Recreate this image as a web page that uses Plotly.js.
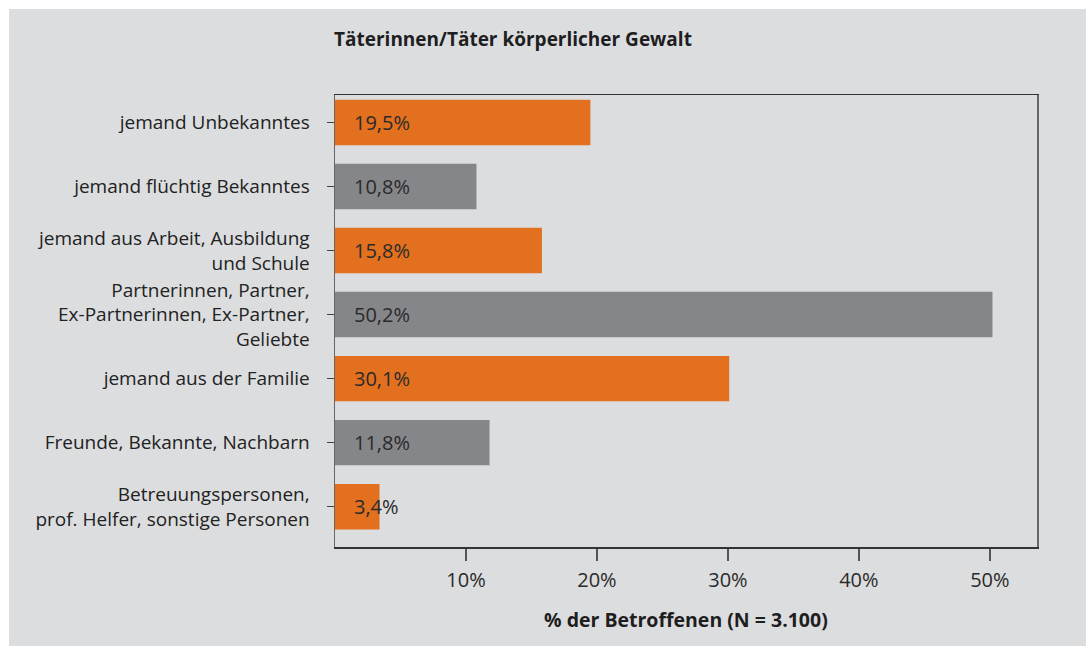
<!DOCTYPE html>
<html>
<head>
<meta charset="utf-8">
<script src="https://cdn.plot.ly/plotly-3.0.1.min.js"></script>
<style>
html,body{margin:0;padding:0;background:#ffffff;width:1086px;height:646px;overflow:hidden;}
#chart{position:absolute;left:9px;top:9px;width:1077px;height:637px;}
</style>
</head>
<body>
<div id="chart"></div>
<script>
const categories = [
  "jemand Unbekanntes",
  "jemand flüchtig Bekanntes",
  "jemand aus Arbeit, Ausbildung<br>und Schule",
  "Partnerinnen, Partner,<br>Ex-Partnerinnen, Ex-Partner,<br>Geliebte",
  "jemand aus der Familie",
  "Freunde, Bekannte, Nachbarn",
  "Betreuungspersonen,<br>prof. Helfer, sonstige Personen"
];
const values = [19.5, 10.8, 15.8, 50.2, 30.1, 11.8, 3.4];
const tickValues = [10, 20, 30, 40, 50];
const titleText = "Täterinnen/Täter körperlicher Gewalt";
const xTitleText = "% der Betroffenen (N = 3.100)";

const ORANGE = "#e2701e";
const GREY = "#858689";
const barColors = values.map((v, i) => i % 2 === 0 ? ORANGE : GREY);
const FONT = "Open Sans, Noto Sans, sans-serif";

const labels = values.map(v => v.toFixed(1).replace(".", ",") + "%");

const trace = {
  type: "bar",
  orientation: "h",
  y: categories,
  x: values,
  marker: {color: barColors, line: {width: 0}},
  width: 0.71,
  hoverinfo: "skip"
};

const annotations = values.map((v, i) => ({
  x: 0, y: categories[i], xref: "x", yref: "y",
  text: labels[i], showarrow: false, xanchor: "left", yanchor: "middle",
  xshift: 17, font: {family: FONT, size: 20, color: "#2a2a2a"}
}));
annotations.push({
  text: "<b>" + titleText + "</b>", xref: "paper", yref: "paper",
  x: 0, y: 1, xanchor: "left", yanchor: "middle", yshift: 56, xshift: -3,
  showarrow: false, font: {family: FONT, size: 19, color: "#1e1e1e"}
});
annotations.push({
  text: "<b>" + xTitleText + "</b>", xref: "paper", yref: "paper",
  x: 0.5, y: 0, xanchor: "center", yanchor: "middle", yshift: -72,
  showarrow: false, font: {family: FONT, size: 19.5, color: "#1e1e1e"}
});

const layout = {
  width: 1077, height: 637,
  paper_bgcolor: "#dcdddf",
  plot_bgcolor: "#dcdddf",
  margin: {l: 326, r: 49, t: 86, b: 99, pad: 0},
  showlegend: false,
  xaxis: {
    range: [0, 53.6],
    tickvals: tickValues,
    ticktext: tickValues.map(t => t + "%"),
    ticks: "outside", ticklen: 12, tickwidth: 1.5, tickcolor: "#555",
    showgrid: false, zeroline: false,
    showline: true, linecolor: "#333", linewidth: 1.5, mirror: true,
    tickfont: {family: FONT, size: 20, color: "#2a2a2a"},
    ticklabelstandoff: 2
  },
  yaxis: {
    type: "category",
    range: [6.63, -0.43],
    ticks: "outside", ticklen: 7, tickwidth: 1, tickcolor: "#444",
    showgrid: false, zeroline: false,
    showline: true, linecolor: "#666", linewidth: 1.5, mirror: true,
    tickfont: {family: FONT, size: 19, color: "#222"},
    ticklabelstandoff: 13
  },
  annotations: annotations
};

Plotly.newPlot("chart", [trace], layout, {displayModeBar: false, staticPlot: true});
</script>
</body>
</html>
